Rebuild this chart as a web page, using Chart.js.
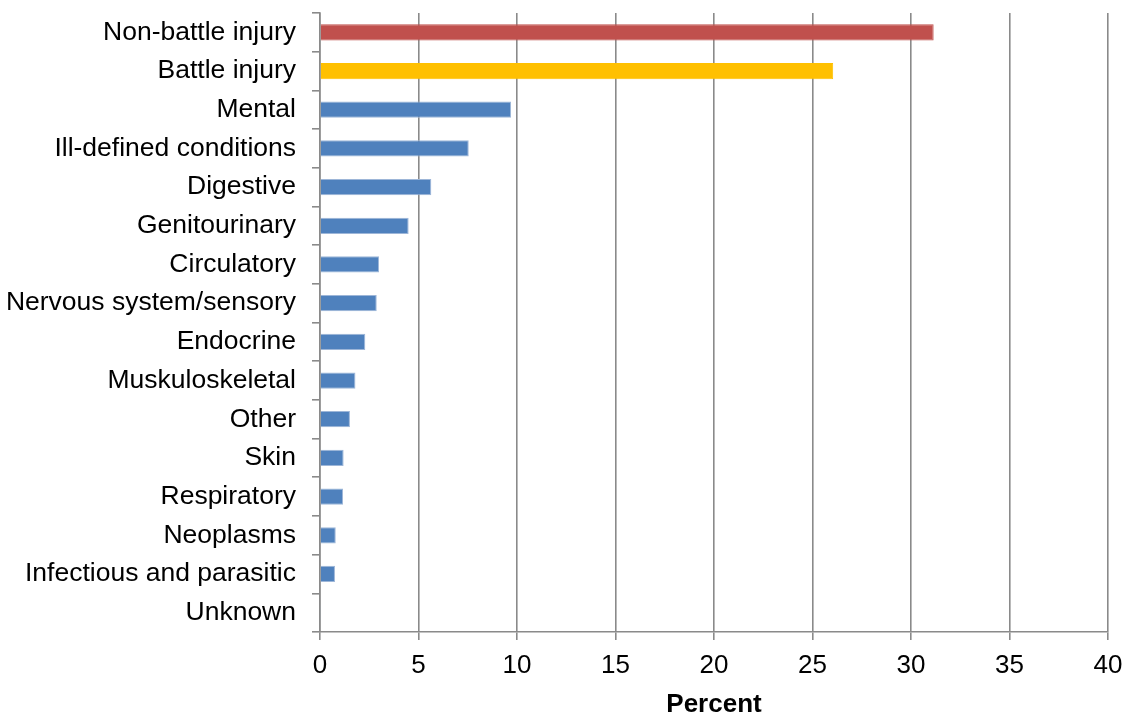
<!DOCTYPE html>
<html>
<head>
<meta charset="utf-8">
<script src="https://cdn.jsdelivr.net/npm/chart.js@4/dist/chart.umd.min.js"></script>
<style>
  html, body { margin: 0; padding: 0; background: #ffffff; }
  #wrap { width: 1124px; height: 713px; position: relative; }
</style>
</head>
<body>
<div id="wrap"><canvas id="c" width="1124" height="713"></canvas></div>
<script>
// Share of cases by diagnostic category (percent)
const categories = [
  "Non-battle injury", "Battle injury", "Mental", "Ill-defined conditions",
  "Digestive", "Genitourinary", "Circulatory", "Nervous system/sensory",
  "Endocrine", "Muskuloskeletal", "Other", "Skin", "Respiratory",
  "Neoplasms", "Infectious and parasitic", "Unknown"
];
const percentValues = [
  31.15, 26.05, 9.7, 7.55,
  5.65, 4.5, 3.0, 2.88,
  2.3, 1.8, 1.52, 1.2, 1.17,
  0.8, 0.76, 0.03
];
const xTicks = [0, 5, 10, 15, 20, 25, 30, 35, 40];
const axisTitle = "Percent";

const RED = "#C0504D", GOLD = "#FFC000", BLUE = "#4F81BD";
const barColors = categories.map((c, i) => i === 0 ? RED : (i === 1 ? GOLD : BLUE));
const barBorders = categories.map((c, i) => i < 2 ? barColors[i] : "#9DB6D8");

const FONT = "'Liberation Sans', Arial, Helvetica, sans-serif";
const GRID = "#8A8A8A";

new Chart(document.getElementById("c"), {
  type: "bar",
  data: {
    labels: categories,
    datasets: [{
      data: percentValues,
      backgroundColor: barColors,
      borderColor: barBorders,
      borderWidth: 1,
      categoryPercentage: 1.0,
      barPercentage: 0.42
    }]
  },
  options: {
    indexAxis: "y",
    responsive: false,
    animation: false,
    devicePixelRatio: 1,
    layout: { padding: { top: 13, right: 16, left: 0, bottom: 0 } },
    plugins: { legend: { display: false }, tooltip: { enabled: false } },
    scales: {
      x: {
        type: "linear",
        min: 0, max: 40,
        afterBuildTicks: (s) => { s.ticks = xTicks.map(v => ({ value: v })); },
        afterFit: (s) => { s.height = 81; s.paddingLeft = 0; s.paddingRight = 0; },
        grid: { color: GRID, lineWidth: 1.6, drawTicks: true, tickLength: 8, tickColor: GRID },
        border: { display: true, color: GRID, width: 1.6 },
        ticks: { color: "#000", font: { family: FONT, size: 26 }, padding: 10, maxRotation: 0 },
        title: { display: true, text: axisTitle, color: "#000",
                 font: { family: FONT, size: 26, weight: "bold" }, padding: { top: 0, bottom: -7 } }
      },
      y: {
        afterFit: (s) => { s.width = 320; s.paddingTop = 0; s.paddingBottom = 0; },
        grid: { drawOnChartArea: false, drawTicks: true, tickLength: 8, color: GRID, lineWidth: 1.6 },
        border: { display: true, color: GRID, width: 1.6 },
        ticks: { color: "#000", font: { family: FONT, size: 26.5 }, padding: 16, autoSkip: false }
      }
    }
  }
});
</script>
</body>
</html>
